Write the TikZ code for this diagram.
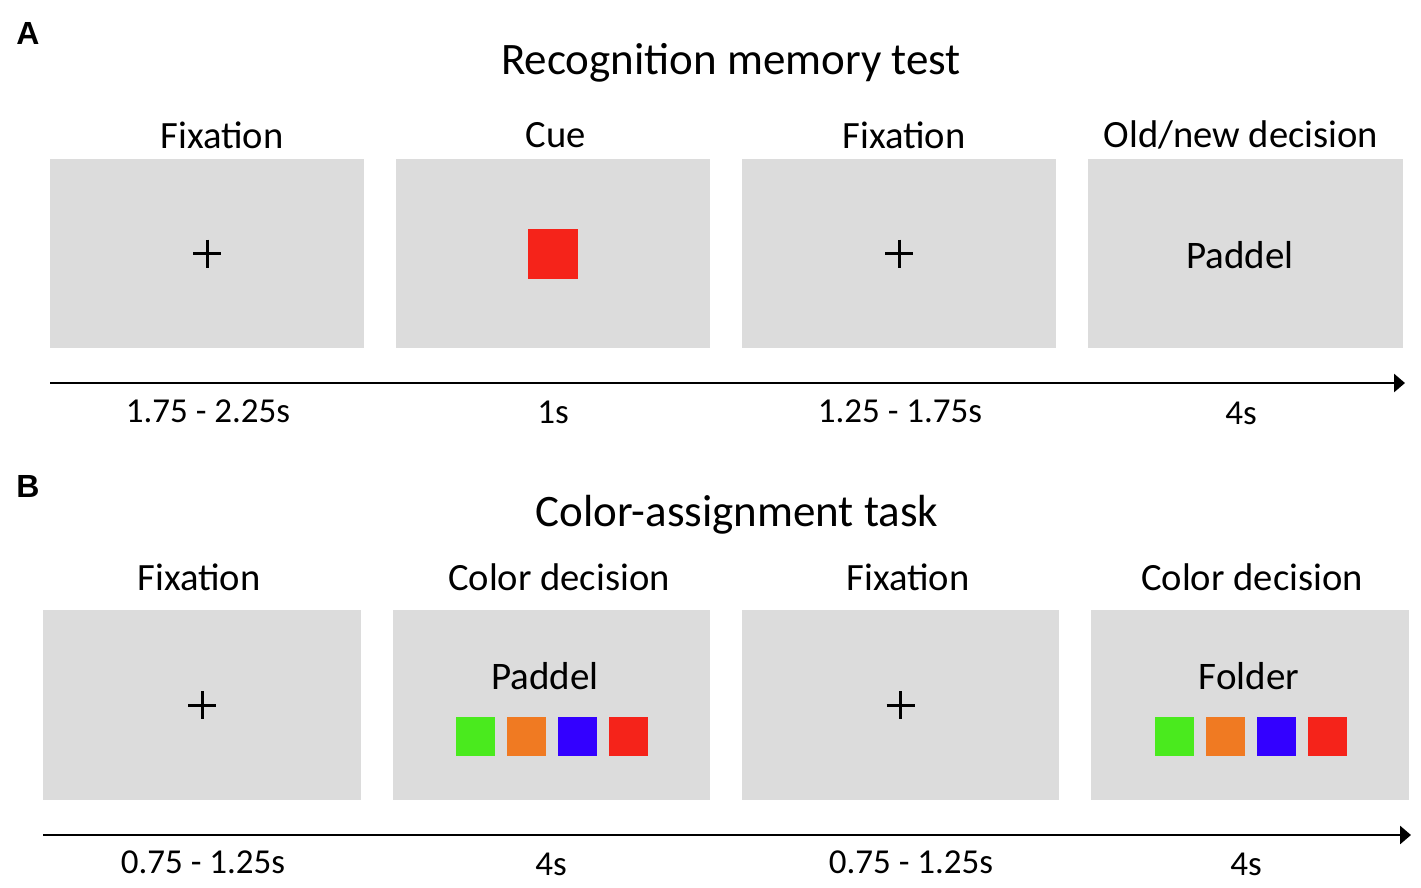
\documentclass[tikz,border=0pt]{standalone}
\usepackage{fontspec}
\setmainfont{Carlito}
\newfontfamily\panelfont{Liberation Sans}
\usetikzlibrary{arrows.meta, positioning, calc}
\definecolor{screengray}{HTML}{DCDCDC}
\definecolor{cuered}{HTML}{F5231A}
\definecolor{cuegreen}{HTML}{4AEA1E}
\definecolor{cueorange}{HTML}{F07A22}
\definecolor{cueblue}{HTML}{3300FF}

\begin{document}
\begin{tikzpicture}[x=1pt, y=-1pt,
    screen/.style={fill=screengray, inner sep=0pt, minimum height=189pt},
    panel/.style={font=\panelfont\bfseries\fontsize{32}{32}\selectfont},
    heading/.style={font=\fontsize{45}{45}\selectfont},
    phase/.style={font=\fontsize{38.6}{38.6}\selectfont},
    dur/.style={font=\fontsize{35}{35}\selectfont},
    word/.style={font=\fontsize{39}{39}\selectfont},
    swatch/.style={minimum size=39pt, inner sep=0pt},
    fixcross/.style={line width=3pt},
    timearr/.style={line width=2.8pt, -{Triangle[length=11pt, width=18pt]}}
  ]
    \useasboundingbox (0,0) rectangle (1421,887);

    % ---- panel A
    \node[panel] (labA) at (28,33) {A};
    \node[heading] (titleA) at (731,63) {Recognition memory test};
    \node[phase] (phA1) at (222,135) {Fixation};
    \node[phase] (phA2) at (556,135) {Cue};
    \node[phase] (phA3) at (904,135) {Fixation};
    \node[phase] (phA4) at (1241,135) {Old/new decision};

    \node[screen, minimum width=314pt] (scrA1) at (207,253.5) {};
    \node[screen, minimum width=314pt] (scrA2) at (553,253.5) {};
    \node[screen, minimum width=314pt] (scrA3) at (899,253.5) {};
    \node[screen, minimum width=315pt] (scrA4) at (1245.5,253.5) {};

    \draw[fixcross] ($(scrA1.center)+(-14,0)$) -- ++(28,0)
      ($(scrA1.center)+(0,-14)$) -- ++(0,28);
    \node[swatch, minimum size=50pt, fill=cuered] (cueA) at (553,253.5) {};
    \draw[fixcross] ($(scrA3.center)+(-14,0)$) -- ++(28,0)
      ($(scrA3.center)+(0,-14)$) -- ++(0,28);
    \node[word] (wordA) at (1240,255) {Paddel};

    \coordinate (tA0) at (50,383);
    \coordinate (tA1) at (1405,383);
    \draw[timearr] (tA0) -- (tA1);
    \node[dur] (durA1) at (208,411) {1.75 - 2.25s};
    \node[dur] (durA2) at (553,412) {1s};
    \node[dur] (durA3) at (900,411) {1.25 - 1.75s};
    \node[dur] (durA4) at (1241,413) {4s};

    % ---- panel B
    \node[panel] (labB) at (28,486) {B};
    \node[heading] (titleB) at (737,515) {Color-assignment task};
    \node[phase] (phB1) at (199,577) {Fixation};
    \node[phase] (phB2) at (559,577) {Color decision};
    \node[phase] (phB3) at (908,577) {Fixation};
    \node[phase] (phB4) at (1252,577) {Color decision};

    \node[screen, minimum width=318pt, minimum height=190pt] (scrB1) at (202,705) {};
    \node[screen, minimum width=317pt, minimum height=190pt] (scrB2) at (551.5,705) {};
    \node[screen, minimum width=317pt, minimum height=190pt] (scrB3) at (900.5,705) {};
    \node[screen, minimum width=318pt, minimum height=190pt] (scrB4) at (1250,705) {};

    \draw[fixcross] ($(scrB1.center)+(-14,0)$) -- ++(28,0)
      ($(scrB1.center)+(0,-14)$) -- ++(0,28);
    \draw[fixcross] ($(scrB3.center)+(-14,0)$) -- ++(28,0)
      ($(scrB3.center)+(0,-14)$) -- ++(0,28);

    \node[word] (wordB2) at (545,676) {Paddel};
    \node[word] (wordB4) at (1249,676) {Folder};
    % colour choices under each word
    \foreach \c [count=\i] in {cuegreen, cueorange, cueblue, cuered} {
      \node[swatch, fill=\c] (optB2\i) at (424.5+51*\i,736.5) {};
      \node[swatch, fill=\c] (optB4\i) at (1123.5+51*\i,736.5) {};
    }

    \coordinate (tB0) at (43,835);
    \coordinate (tB1) at (1411,835);
    \draw[timearr] (tB0) -- (tB1);
    \node[dur] (durB1) at (203,862) {0.75 - 1.25s};
    \node[dur] (durB2) at (551,864) {4s};
    \node[dur] (durB3) at (911,862) {0.75 - 1.25s};
    \node[dur] (durB4) at (1246,864) {4s};
  \end{tikzpicture}
\end{document}
